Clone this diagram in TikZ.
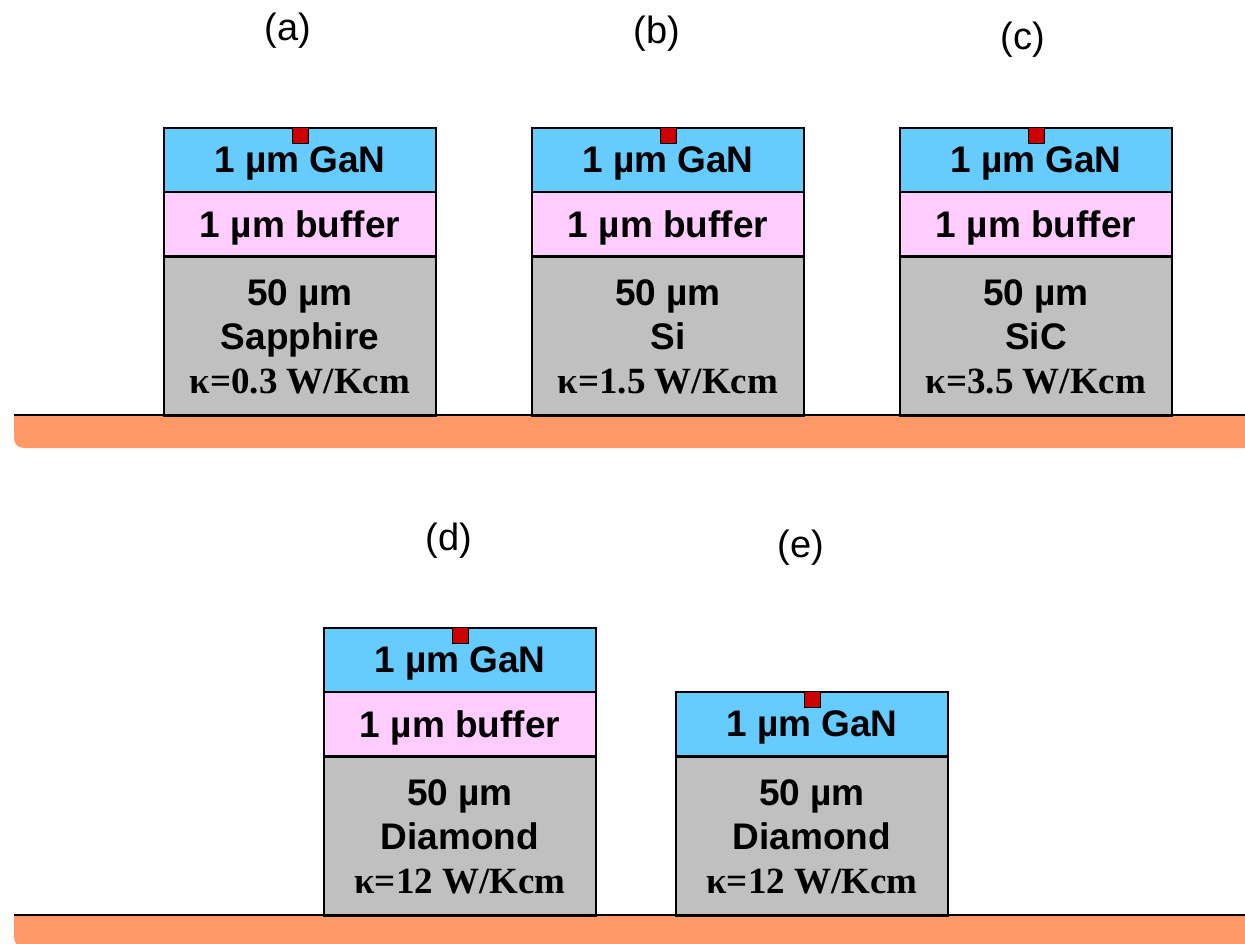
\documentclass[tikz,border=0pt]{standalone}
\usepackage{fontspec}
\setmainfont{Liberation Sans}
\newfontfamily\kfont{Liberation Serif}
\definecolor{ganblue}{HTML}{66CCFF}
\definecolor{bufpink}{HTML}{FFCCFF}
\definecolor{subgray}{HTML}{C0C0C0}
\definecolor{padred}{HTML}{CC0000}
\definecolor{barorange}{HTML}{FF9966}
\newcommand{\kap}[1]{{\kfont\bfseries κ=#1 W/Kcm}}
\begin{document}
\begin{tikzpicture}[x=1pt,y=-1pt,
  layer/.style={draw=black, line width=1.6pt, minimum width=272pt, inner sep=0pt,
    font=\fontsize{37}{44}\selectfont\bfseries},
  gan/.style={layer, fill=ganblue, minimum height=64pt, text depth=0pt},
  buf/.style={layer, fill=bufpink, minimum height=64pt, text depth=0pt},
  sub/.style={layer, fill=subgray, minimum height=159pt, align=center},
  pad/.style={draw=black, line width=1pt, fill=padred, minimum size=16pt, inner sep=0pt, anchor=north},
  lbl/.style={font=\fontsize{38}{43}\selectfont, inner sep=0pt},
  bar/.style={fill=barorange},
  barline/.style={draw=black, line width=2pt}]
\useasboundingbox (0,0) rectangle (1245,944);

% bars
\fill[bar] (14,415) -- (14,438) .. controls (14,444) and (18,448) .. (24,448) -- (1260,448) -- (1260,415) -- cycle;
\fill[bar] (14,915) -- (14,937) .. controls (14,943) and (18,947) .. (24,947) -- (1260,947) -- (1260,915) -- cycle;

% labels
\node[lbl] (la) at (288,31) {(a)};
\node[lbl] (lb) at (657,34) {(b)};
\node[lbl] (lc) at (1023,40) {(c)};
\node[lbl] (ld) at (449,541) {(d)};
\node[lbl] (le) at (801,548) {(e)};

% (a)
\node[gan] (agan) at (300,160) {1 µm GaN};
\node[buf] (abuf) at (300,224) {1 µm buffer};
\node[sub] (asub) at (300,337) {50 µm\\Sapphire\\\kap{0.3}};
\node[pad] (apad) at (agan.north) {};
% (b)
\node[gan] (bgan) at (668,160) {1 µm GaN};
\node[buf] (bbuf) at (668,224) {1 µm buffer};
\node[sub] (bsub) at (668,337) {50 µm\\Si\\\kap{1.5}};
\node[pad] (bpad) at (bgan.north) {};
% (c)
\node[gan] (cgan) at (1036,160) {1 µm GaN};
\node[buf] (cbuf) at (1036,224) {1 µm buffer};
\node[sub] (csub) at (1036,337) {50 µm\\SiC\\\kap{3.5}};
\node[pad] (cpad) at (cgan.north) {};
% (d)
\node[gan] (dgan) at (460,660) {1 µm GaN};
\node[buf] (dbuf) at (460,724) {1 µm buffer};
\node[sub] (dsub) at (460,837) {50 µm\\Diamond\\\kap{12}};
\node[pad] (dpad) at (dgan.north) {};
% (e)
\node[gan] (egan) at (812,724) {1 µm GaN};
\node[sub] (esub) at (812,837) {50 µm\\Diamond\\\kap{12}};
\node[pad] (epad) at (egan.north) {};

% bar top lines
\draw[barline] (14,415) -- (1245,415);
\draw[barline] (14,915) -- (1245,915);
\end{tikzpicture}
\end{document}
